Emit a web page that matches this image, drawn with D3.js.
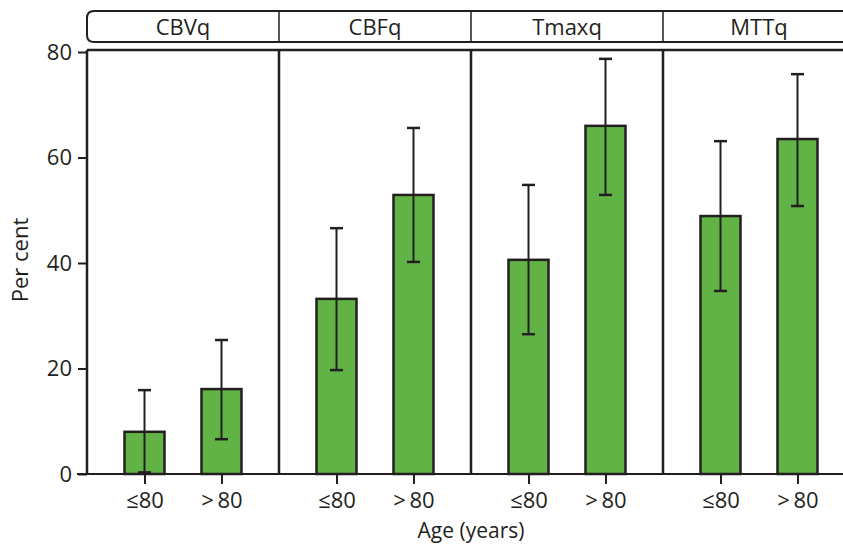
<!DOCTYPE html>
<html>
<head>
<meta charset="utf-8">
<script src="https://cdn.jsdelivr.net/npm/d3@7"></script>
<style>
  body { margin: 0; background: #fff; }
  svg { display: block; font-family: "Open Sans", "Noto Sans", sans-serif; }
</style>
</head>
<body>
<div id="chart"></div>
<script>
// data
var panels = ["CBVq", "CBFq", "Tmaxq", "MTTq"];
var ageGroups = ["\u226480", ">\u200980"];
var pctLe80 = [8.0, 33.2, 40.6, 48.9];
var lowLe80 = [0.3, 19.7, 26.5, 34.7];
var highLe80 = [15.9, 46.6, 54.8, 63.1];
var pctGt80 = [16.1, 52.9, 66.0, 63.5];
var lowGt80 = [6.6, 40.2, 52.9, 50.8];
var highGt80 = [25.4, 65.6, 78.7, 75.8];
var yTicks = [0, 20, 40, 60, 80];

var rows = [];
panels.forEach(function(p, i) {
    rows.push({panel: p, group: ageGroups[0], value: pctLe80[i], lo: lowLe80[i], hi: highLe80[i]});
    rows.push({panel: p, group: ageGroups[1], value: pctGt80[i], lo: lowGt80[i], hi: highGt80[i]});
});

var svgW = 843, svgH = 544;
var margins = {left: 87, top: 50, bottom: 70};
var panelW = 192;
var chartH = svgH - margins.top - margins.bottom;
var ink = "#231f20";
var green = "#62b346";

var svg = d3.select("#chart").append("svg")
    .attr("width", svgW)
    .attr("height", svgH);

var chart = svg.append("g")
    .attr("transform", `translate(${margins.left},${margins.top})`);

var panelX = d3.scaleBand().domain(panels).range([0, panelW * panels.length]);
var xscale = d3.scalePoint().domain(ageGroups).range([0, panelW]).padding(0.747);
var yscale = d3.scaleLinear().domain([0, 80]).range([chartH, 2]);
var barW = 40;

// strips
var strip = svg.append("g").attr("transform", `translate(${margins.left},11)`);
var stripH = 31;
var totalW = panelW * panels.length;
strip.append("path")
    .attr("d", `M${totalW + 20},0 H7 Q0,0 0,7 V${stripH - 7} Q0,${stripH} 7,${stripH} H${totalW + 20}`)
    .attr("fill", "none").attr("stroke", ink).attr("stroke-width", 2);
panels.forEach(function(p, i) {
    if (i > 0) {
        strip.append("line")
            .attr("x1", panelX(p)).attr("x2", panelX(p))
            .attr("y1", 0).attr("y2", stripH)
            .attr("stroke", ink).attr("stroke-width", 1.5);
    }
    strip.append("text")
        .attr("x", panelX(p) + panelW / 2).attr("y", stripH / 2 + 8)
        .attr("text-anchor", "middle")
        .attr("font-size", 22).attr("fill", ink)
        .text(p);
});

// panel borders
chart.append("line")
    .attr("x1", 0).attr("x2", totalW + 20).attr("y1", 0).attr("y2", 0)
    .attr("stroke", ink).attr("stroke-width", 2.5);
panels.forEach(function(p) {
    chart.append("line")
        .attr("x1", panelX(p)).attr("x2", panelX(p))
        .attr("y1", 0).attr("y2", yscale(0))
        .attr("stroke", ink).attr("stroke-width", 2.5);
});

// y axis
var yaxis = d3.axisLeft(yscale).tickValues(yTicks).tickSize(9).tickPadding(6);
var yg = chart.append("g").call(yaxis);
yg.select(".domain").remove();
yg.selectAll("line").attr("stroke", ink).attr("stroke-width", 2);
yg.selectAll("text").attr("font-size", 22).attr("fill", ink).attr("font-family", "Open Sans");

// bars
var bars = chart.append("g");
bars.selectAll("rect").data(rows).enter().append("rect")
    .attr("x", d => panelX(d.panel) + xscale(d.group) - barW / 2)
    .attr("y", d => yscale(d.value))
    .attr("width", barW)
    .attr("height", d => yscale(0) - yscale(d.value))
    .attr("fill", green)
    .attr("stroke", ink).attr("stroke-width", 2.5);

// error bars
var errs = chart.append("g").attr("stroke", ink);
rows.forEach(function(d) {
    var cx = panelX(d.panel) + xscale(d.group);
    errs.append("line")
        .attr("x1", cx).attr("x2", cx)
        .attr("y1", yscale(d.lo)).attr("y2", yscale(d.hi))
        .attr("stroke-width", 2);
    [d.lo, d.hi].forEach(function(v) {
        errs.append("line")
            .attr("x1", cx - 6.5).attr("x2", cx + 6.5)
            .attr("y1", yscale(v)).attr("y2", yscale(v))
            .attr("stroke-width", 2.5);
    });
});

// x axis
var xg = chart.append("g").attr("transform", `translate(0,${yscale(0)})`);
xg.append("line")
    .attr("x1", -10).attr("x2", totalW + 20)
    .attr("stroke", ink).attr("stroke-width", 2);
panels.forEach(function(p) {
    var g = xg.append("g").attr("transform", `translate(${panelX(p)},0)`);
    g.call(d3.axisBottom(xscale).tickSize(10).tickPadding(8));
    g.select(".domain").remove();
    g.selectAll("line").attr("stroke", ink).attr("stroke-width", 2);
    g.selectAll("text").attr("font-size", 22).attr("fill", ink).attr("font-family", "Open Sans");
});

// axis titles
svg.append("text")
    .attr("transform", `translate(28,${margins.top + chartH / 2 - 2}) rotate(-90)`)
    .attr("text-anchor", "middle")
    .attr("font-size", 22).attr("fill", ink)
    .text("Per cent");
svg.append("text")
    .attr("x", 471).attr("y", 538)
    .attr("text-anchor", "middle")
    .attr("font-size", 21).attr("fill", ink)
    .text("Age (years)");
</script>
</body>
</html>
